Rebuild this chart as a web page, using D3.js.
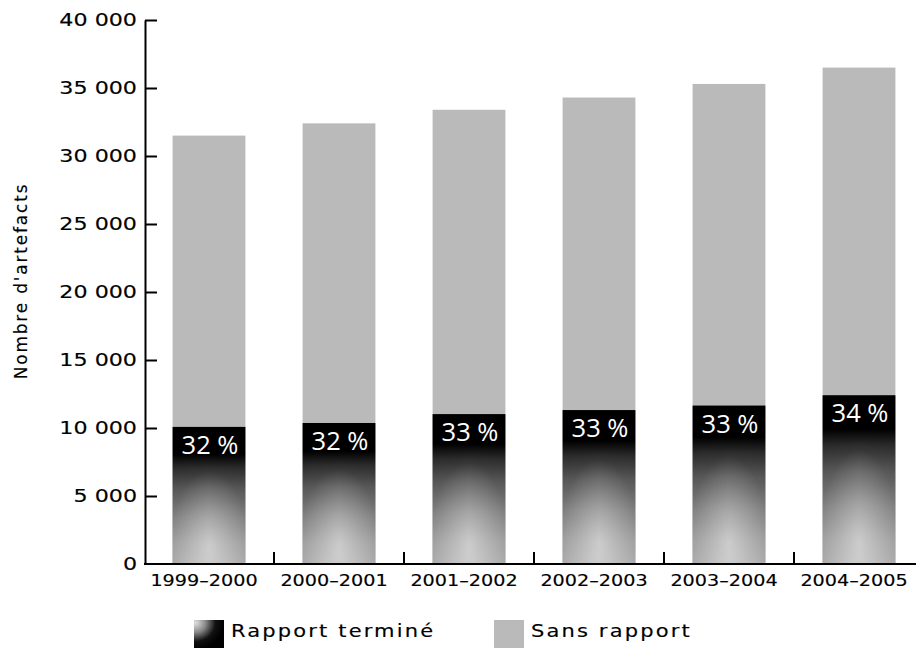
<!DOCTYPE html>
<html>
<head>
<meta charset="utf-8">
<script src="https://cdn.jsdelivr.net/npm/d3@7"></script>
<style>
  body { margin: 0; background: #fff; }
  svg { display: block; }
  text { font-family: "DejaVu Sans", sans-serif; fill: #000; }
</style>
</head>
<body>
<svg id="chart" width="916" height="649"></svg>
<script>
// Fiscal years
const years = ["1999–2000", "2000–2001", "2001–2002", "2002–2003", "2003–2004", "2004–2005"];
// Total number of artefacts per year
const totals = [31500, 32400, 33400, 34300, 35300, 36500];
// Share of artefacts with a completed report (%)
const reportPct = [32, 32, 33, 33, 33, 34];
// Y axis ticks
const yTicks = [0, 5000, 10000, 15000, 20000, 25000, 30000, 35000, 40000];

const seriesNames = ["Rapport terminé", "Sans rapport"];
const greyFill = "#bababa";
const WIDE = 1.2; // horizontal stretch for the wide label typeface

const svg = d3.select("#chart");
const defs = svg.append("defs");

// Dark-to-light shading for the "completed" segment
const lin = defs.append("linearGradient").attr("id", "doneLin")
  .attr("x1", 0).attr("y1", 0).attr("x2", 0).attr("y2", 1);
[[0, "#000"], [0.2, "#000"], [0.3, "#2e2e2e"], [0.45, "#5c5c5c"], [0.65, "#878787"], [0.85, "#a8a8a8"], [1, "#b6b6b6"]]
  .forEach(([o, c]) => lin.append("stop").attr("offset", o).attr("stop-color", c));

const glow = defs.append("radialGradient").attr("id", "doneGlow")
  .attr("cx", 0.5).attr("cy", 0.87).attr("r", 0.55);
glow.append("stop").attr("offset", 0).attr("stop-color", "#fff").attr("stop-opacity", 0.4);
glow.append("stop").attr("offset", 1).attr("stop-color", "#fff").attr("stop-opacity", 0);

const sides = defs.append("linearGradient").attr("id", "doneSides")
  .attr("x1", 0).attr("y1", 0).attr("x2", 1).attr("y2", 0);
[[0, 0.07], [0.5, 0], [1, 0.07]]
  .forEach(([o, a]) => sides.append("stop").attr("offset", o).attr("stop-color", "#000").attr("stop-opacity", a));

// Legend swatch shading (sphere-like)
const sw = defs.append("radialGradient").attr("id", "legendDone")
  .attr("cx", 0.05).attr("cy", 0.1).attr("r", 0.95);
[[0, "#e0e0e0"], [0.35, "#8a8a8a"], [0.7, "#111"], [1, "#000"]]
  .forEach(([o, c]) => sw.append("stop").attr("offset", o).attr("stop-color", c));

// Scales
const x = d3.scaleBand().domain(years).range([144, 924]).paddingInner(0.44).paddingOuter(0.22);
const y = d3.scaleLinear().domain([0, 40000]).range([564, 20]);

const fmt = d3.formatLocale({ decimal: ",", thousands: " ", grouping: [3], currency: ["", ""] }).format(",d");

const data = years.map((yr, i) => ({
  year: yr,
  total: totals[i],
  pct: reportPct[i],
  done: totals[i] * reportPct[i] / 100
}));

// Place a text at (px, py) and stretch it horizontally
function wideText(sel, px, py) {
  sel.attr("transform", (d, i, n) => {
    const X = typeof px === "function" ? px(d, i, n) : px;
    const Y = typeof py === "function" ? py(d, i, n) : py;
    return `translate(${X},${Y}) scale(${WIDE},1)`;
  }).attr("x", 0).attr("y", 0)
    .attr("stroke", "#000").attr("stroke-width", 0.15);
}

// Bars: grey total
svg.append("g").selectAll("rect").data(data).join("rect")
  .attr("x", d => x(d.year)).attr("width", x.bandwidth())
  .attr("y", d => y(d.total)).attr("height", d => y(0) - y(d.total))
  .attr("fill", greyFill);

// Completed segment with layered shading
const doneG = svg.append("g");
["url(#doneLin)", "url(#doneGlow)", "url(#doneSides)"].forEach(f => {
  doneG.append("g").selectAll("rect").data(data).join("rect")
    .attr("x", d => x(d.year)).attr("width", x.bandwidth())
    .attr("y", d => y(d.done)).attr("height", d => y(0) - y(d.done))
    .attr("fill", f);
});

// Percentage labels
svg.append("g").selectAll("text").data(data).join("text")
  .attr("x", d => x(d.year) + x.bandwidth() / 2 + 1)
  .attr("y", d => y(d.done) + 27)
  .attr("text-anchor", "middle")
  .style("font-family", "'Open Sans', sans-serif")
  .style("font-size", "25.5px")
  .style("font-weight", 500)
  .style("fill", "#fff")
  .text(d => d.pct + " %");

// Y axis
const yAxis = svg.append("g").attr("transform", "translate(145,0)")
  .call(d3.axisLeft(y).tickValues(yTicks).tickSizeInner(-12).tickSizeOuter(0).tickPadding(8).tickFormat(fmt));
yAxis.select(".domain").attr("stroke", "#000").attr("stroke-width", 2);
yAxis.selectAll(".tick line").attr("stroke", "#000").attr("stroke-width", 2);
yAxis.selectAll(".tick text")
  .style("font-family", "'DejaVu Sans', sans-serif")
  .style("font-size", "18.5px")
  .attr("fill", "#000")
  .call(wideText, -8, 0);
yAxis.selectAll(".tick").filter(d => d === 0).select("line").remove();

// X axis: baseline, separators between years, labels
const xAxis = svg.append("g");
xAxis.append("line")
  .attr("x1", 144).attr("x2", 916).attr("y1", y(0)).attr("y2", y(0))
  .attr("stroke", "#000").attr("stroke-width", 2);
xAxis.selectAll("line.sep").data(years.slice(1)).join("line").attr("class", "sep")
  .attr("x1", d => x(d) - x.step() * x.paddingInner() / 2)
  .attr("x2", d => x(d) - x.step() * x.paddingInner() / 2)
  .attr("y1", y(0)).attr("y2", y(0) - 12)
  .attr("stroke", "#000").attr("stroke-width", 2);
xAxis.selectAll("text").data(years).join("text")
  .attr("text-anchor", "middle")
  .style("font-size", "16px")
  .text(d => d)
  .call(wideText, d => x(d) + x.bandwidth() / 2 - 5, 586);

// Y title
svg.append("text")
  .attr("transform", "translate(27,281) rotate(-90)")
  .attr("text-anchor", "middle")
  .style("font-size", "17px")
  .style("letter-spacing", "1.8px")
  .attr("stroke", "#000").attr("stroke-width", 0.15)
  .text("Nombre d'artefacts");

// Legend
const legend = svg.append("g");
const legendItems = [
  { name: seriesNames[0], fill: "url(#legendDone)", x: 194 },
  { name: seriesNames[1], fill: greyFill, x: 494 }
];
const li = legend.selectAll("g").data(legendItems).join("g")
  .attr("transform", d => `translate(${d.x},620)`);
li.append("rect").attr("width", 30).attr("height", 28).attr("fill", d => d.fill);
li.append("text")
  .style("font-size", "17.5px")
  .style("letter-spacing", "1.8px")
  .text(d => d.name)
  .call(wideText, 37, 17);
</script>
</body>
</html>
